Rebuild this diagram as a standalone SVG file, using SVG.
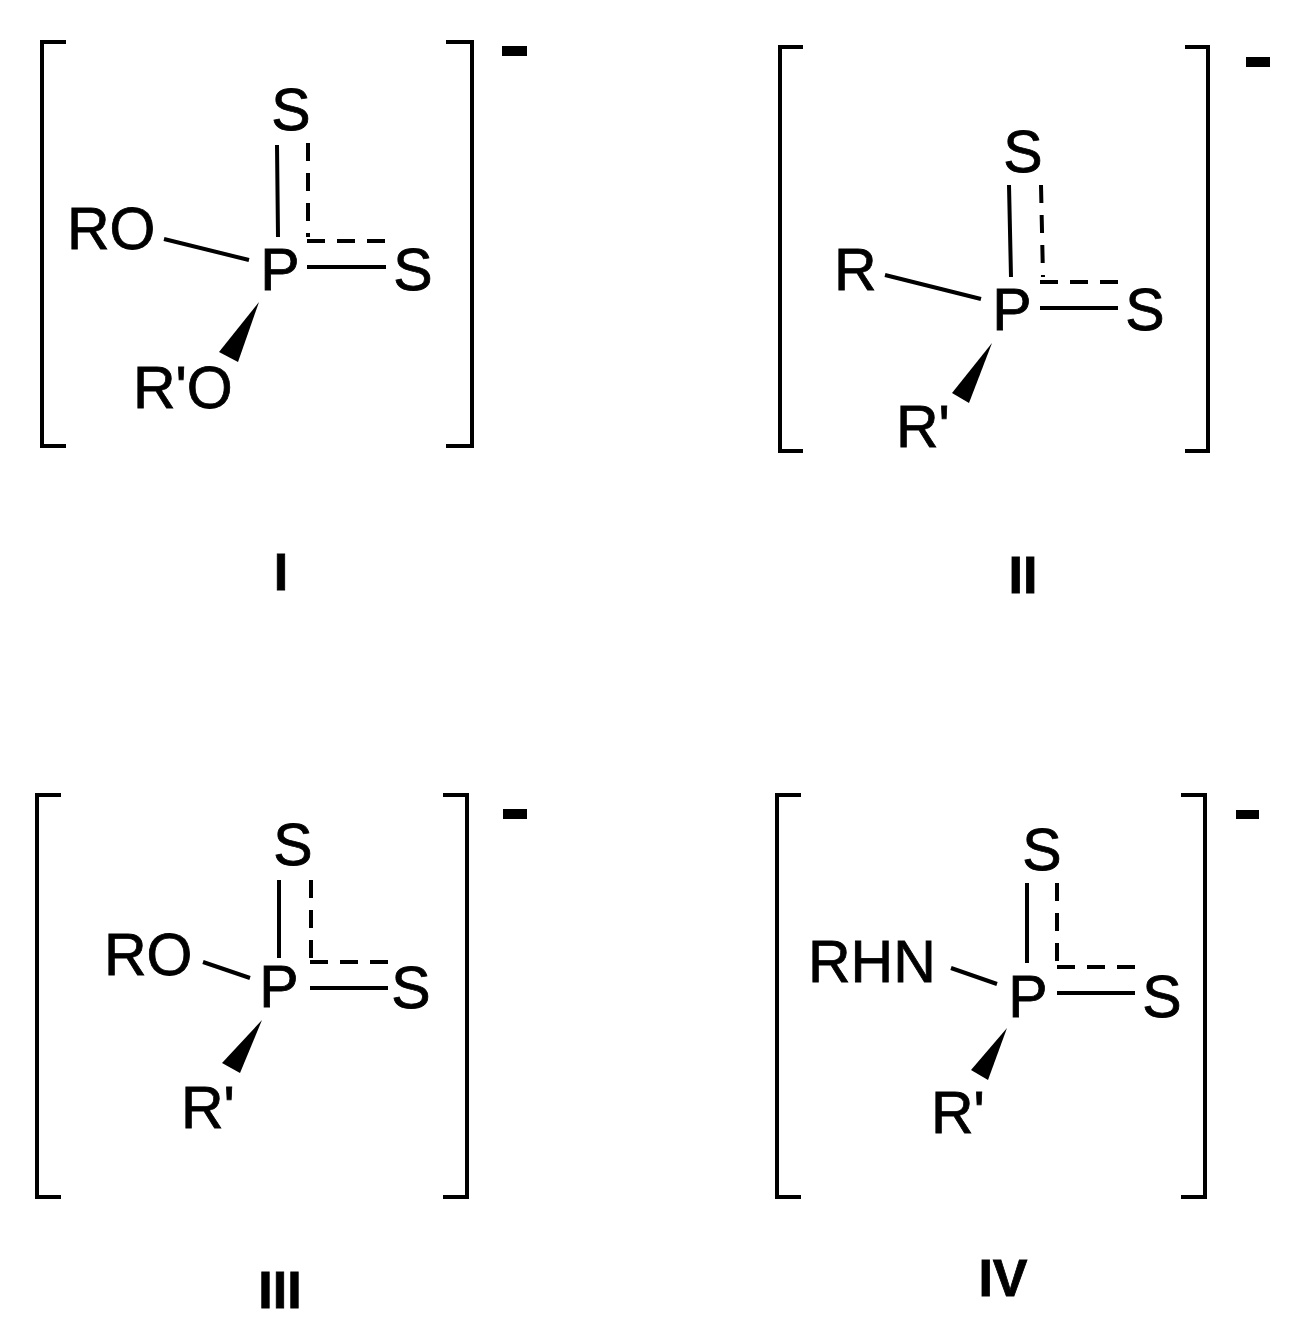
<svg xmlns="http://www.w3.org/2000/svg" width="1308" height="1341" viewBox="0 0 1308 1341">
<style>
text{font-family:"Liberation Sans",Arial,sans-serif;font-size:59px;fill:#000;stroke:#000;stroke-width:0.8}
.c{text-anchor:middle}
.lab{font-weight:bold;font-size:52px;text-anchor:middle}
.b{stroke:#000;stroke-width:4;fill:none}
.d{stroke:#000;stroke-width:4;fill:none;stroke-dasharray:18 12}
.br{stroke:#000;stroke-width:4;fill:none}
</style>
<rect width="1308" height="1341" fill="#fff"/>
<g id="I">
<path class="br" d="M66 42H42V446H66M446 42H472V446H446"/>
<rect x="502" y="46" width="25" height="10"/>
<text class="c" x="291" y="130">S</text>
<text class="c" x="280" y="290">P</text>
<text class="c" x="413" y="290">S</text>
<text x="67" y="249">RO</text>
<text x="133" y="408">R'O</text>
<text class="lab" x="281" y="590">I</text>
</g>
<g id="II">
<path class="br" d="M803 47H780V451H803M1185 47H1208V451H1185"/>
<rect x="1246" y="57" width="24" height="10"/>
<text class="c" x="1023" y="172">S</text>
<text class="c" x="1012" y="330">P</text>
<text class="c" x="1145" y="330">S</text>
<text x="834" y="290">R</text>
<text x="896" y="447">R'</text>
<text class="lab" x="1023" y="593">II</text>
</g>
<g id="III">
<path class="br" d="M61 795H37V1197H61M443 795H467V1197H443"/>
<rect x="503" y="809" width="24" height="10"/>
<text class="c" x="293" y="865">S</text>
<text class="c" x="279" y="1007">P</text>
<text class="c" x="411" y="1008">S</text>
<text x="104" y="975">RO</text>
<text x="181" y="1128">R'</text>
<text class="lab" x="280" y="1308">III</text>
</g>
<g id="IV">
<path class="br" d="M801 795H777V1197H801M1181 795H1205V1197H1181"/>
<rect x="1236" y="810" width="23" height="9"/>
<text class="c" x="1042" y="870">S</text>
<text class="c" x="1028" y="1017">P</text>
<text class="c" x="1162" y="1017">S</text>
<text x="808" y="982">RHN</text>
<text x="931" y="1133">R'</text>
<text class="lab" x="1003" y="1296">IV</text>
</g>
<g id="bonds">
<path class="b" d="M277 145L278 237M307 267H386M164 239L249 260"/>
<path class="d" d="M308 143V237M307 241H386"/>
<polygon points="259,302 219,352 238,362"/>
<path class="b" d="M1009 185L1011 277M1040 308H1118M885 275L981 299"/>
<path class="d" d="M1041 185L1043 277M1040 282H1118"/>
<polygon points="992,343 952,393 969,403"/>
<path class="b" d="M279 880V958M310 988H388M203 962L250 978"/>
<path class="d" d="M311 880V958M310 962H388"/>
<polygon points="262,1020 222,1063 240,1073"/>
<path class="b" d="M1027 883V963M1057 993H1135M951 968L997 984"/>
<path class="d" d="M1057 883V963M1057 967H1135"/>
<polygon points="1007,1028 971,1070 988,1080"/>
</g>
</svg>
